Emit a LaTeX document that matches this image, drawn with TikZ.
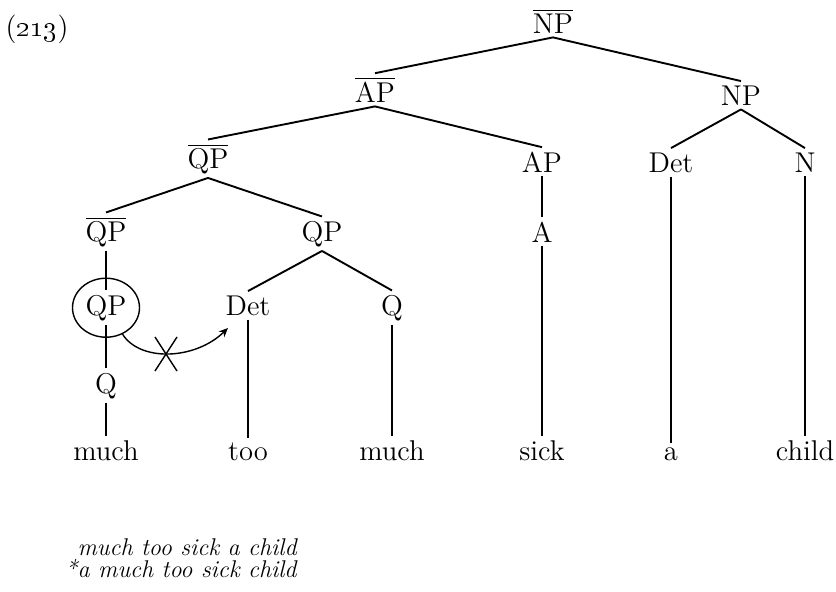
\documentclass[tikz,border=0pt]{standalone}
\usepackage{tikz}
\usetikzlibrary{positioning, arrows.meta, shapes.geometric}

\newcommand{\ovl}[1]{$\overline{\mbox{#1}}$}

\begin{document}
\begin{tikzpicture}[
  x=0.5pt, y=-0.5pt,
  every node/.style={font=\fontsize{14.3}{17}\selectfont, inner sep=2pt, anchor=base},
  br/.style={line width=0.95pt},
  ring/.style={draw, ellipse, line width=0.7pt, minimum width=33.5pt, minimum height=29.5pt, inner sep=0pt},
  ex/.style={font=\fontsize{12.1}{14}\selectfont\itshape, anchor=base east, inner sep=0pt},
  arr/.style={->, >={Stealth[length=1.6mm, width=1.4mm]}, line width=0.7pt}
]
  \useasboundingbox (0,0) rectangle (836,591);

  \node (num) at (37,36) {(\oldstylenums{213})};

  % category labels
  \node (npb)  at (553,33)  {\ovl{NP}};
  \node (apb)  at (375,102) {\ovl{AP}};
  \node (np)   at (741,105) {NP};
  \node (qpb)  at (208,168) {\ovl{QP}};
  \node (ap)   at (542,172) {AP};
  \node (detr) at (671,172) {Det};
  \node (n)    at (805,172) {N};
  \node (qpbl) at (106,241) {\ovl{QP}};
  \node (qp)   at (322,241) {QP};
  \node (a)    at (542,242) {A};
  \node (qpc)  at (106,315) {QP};
  \node (detl) at (248,315) {Det};
  \node (q)    at (392,315) {Q};
  \node (ql)   at (106,393) {Q};
  \node[ring] (circ) at (qpc.center) {};

  % words
  \node (w1) at (106,460) {much};
  \node (w2) at (248,460) {too};
  \node (w3) at (392,460) {much};
  \node (w4) at (542,460) {sick};
  \node (w5) at (671,460) {a};
  \node (w6) at (805,460) {child};

  \draw[br] (npb.south) -- (apb.north);
  \draw[br] (npb.south) -- (np.north);
  \draw[br] (apb.south) -- (qpb.north);
  \draw[br] (apb.south) -- (ap.north);
  \draw[br] (np.south) -- (detr.north);
  \draw[br] (np.south) -- (n.north);
  \draw[br] (qpb.south) -- (qpbl.north);
  \draw[br] (qpb.south) -- (qp.north);
  \draw[br] (ap.south) -- (a.north);
  \draw[br] (qpbl.south) -- (qpc.north);
  \draw[br] (qp.south) -- (detl.north);
  \draw[br] (qp.south) -- (q.north);
  \draw[br] (qpc.south) -- (ql.north);
  \draw[br] (ql.south) -- (w1.north);
  \draw[br] (detl.south) -- (w2.north);
  \draw[br] (q.south) -- (w3.north);
  \draw[br] (a.south) -- (w4.north);
  \draw[br] (detr.south) -- (w5.north);
  \draw[br] (n.south) -- (w6.north);

  % blocked movement
  \coordinate (tip) at (228,328);
  \draw[arr] (circ.-58) .. controls (140,362) and (195,360) .. (tip);
  \coordinate (x) at (166,354);
  \draw[line width=0.7pt] (x) +(-11,-17) -- +(11,17);
  \draw[line width=0.7pt] (x) +(11,-17) -- +(-11,17);

  \node[ex] (ok)  at (297,555) {much too sick a child};
  \node[ex] (bad) at (297,577) {*a much too sick child};
\end{tikzpicture}
\end{document}
